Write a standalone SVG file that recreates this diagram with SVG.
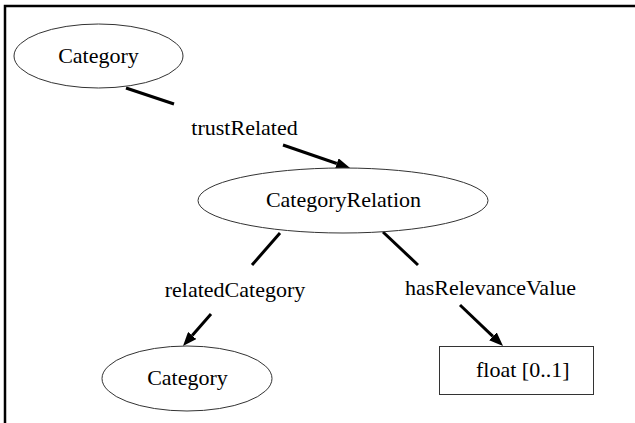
<svg xmlns="http://www.w3.org/2000/svg" width="635" height="423" viewBox="0 0 635 423">
  <style>
    .node { fill: #ffffff; stroke: #333333; stroke-width: 1; }
    .label { font-family: "Liberation Serif", "Times New Roman", serif; font-size: 22px; fill: #000000; }
    .edge { stroke: #000000; stroke-width: 3; fill: none; }
  </style>
  <defs>
    <marker id="arrow" markerUnits="userSpaceOnUse" markerWidth="14" markerHeight="11" refX="0" refY="5.5" orient="auto">
      <path d="M0,0 L14,5.5 L0,11 z" fill="#000000"/>
    </marker>
  </defs>

  <rect x="0" y="0" width="635" height="423" fill="#ffffff"/>
  <!-- frame: only the top and left edges fall inside the canvas -->
  <rect x="5" y="6" width="700" height="500" fill="none" stroke="#000000" stroke-width="2.5"/>

  <g id="connectors">
    <!-- Category -> CategoryRelation (trustRelated) -->
    <line class="edge" x1="126" y1="88" x2="174" y2="104"/>
    <line class="edge" x1="283" y1="145" x2="336.8" y2="163.5" marker-end="url(#arrow)"/>
    <!-- CategoryRelation -> Category (relatedCategory) -->
    <line class="edge" x1="280" y1="233" x2="252" y2="265"/>
    <line class="edge" x1="211" y1="314" x2="192.2" y2="335.5" marker-end="url(#arrow)"/>
    <!-- CategoryRelation -> float (hasRelevanceValue) -->
    <line class="edge" x1="383" y1="232" x2="418" y2="265"/>
    <line class="edge" x1="460" y1="305" x2="492.9" y2="336.3" marker-end="url(#arrow)"/>
  </g>

  <g id="edge-labels">
    <text class="label" x="244.5" y="135" text-anchor="middle">trustRelated</text>
    <text class="label" x="235" y="297" text-anchor="middle">relatedCategory</text>
    <text class="label" x="490.5" y="295" text-anchor="middle">hasRelevanceValue</text>
  </g>

  <g id="category-top">
    <ellipse class="node" cx="98.5" cy="56" rx="84.5" ry="32"/>
    <text class="label" x="98.5" y="63" text-anchor="middle">Category</text>
  </g>

  <g id="category-relation">
    <ellipse class="node" cx="343" cy="200.5" rx="145" ry="32.5"/>
    <text class="label" x="343.5" y="207" text-anchor="middle">CategoryRelation</text>
  </g>

  <g id="category-bottom">
    <ellipse class="node" cx="187" cy="378.5" rx="85" ry="32.5"/>
    <text class="label" x="187.5" y="385" text-anchor="middle">Category</text>
  </g>

  <g id="float-value">
    <rect class="node" x="439.5" y="346.5" width="154" height="48"/>
    <text class="label" x="476" y="377">float [0..1]</text>
  </g>
</svg>
